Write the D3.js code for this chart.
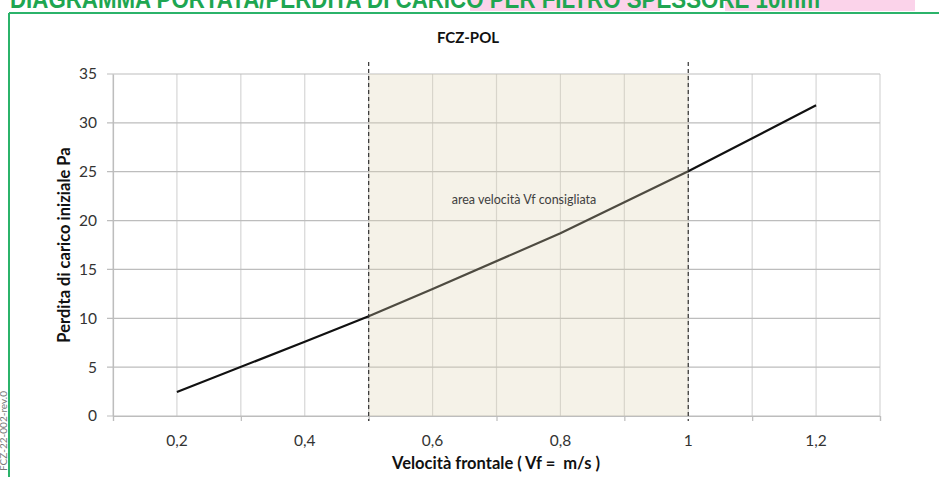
<!DOCTYPE html>
<html>
<head>
<meta charset="utf-8">
<script src="https://cdn.jsdelivr.net/npm/d3@7"></script>
<style>
body{margin:0;background:#fff;}
svg{display:block;font-family:Lato,"Open Sans",sans-serif;}
</style>
</head>
<body>
<div id="chart"></div>
<script>
// velocity (m/s) vs pressure drop (Pa)
var velocity = [0.2, 0.4, 0.5, 0.6, 0.8, 1.0, 1.2];
var pressure = [2.45, 7.6, 10.2, 13.0, 18.7, 25.05, 31.8];
var xLabels = [0.2, 0.4, 0.6, 0.8, 1.0, 1.2];
var yTicks = [0, 5, 10, 15, 20, 25, 30, 35];
var zone = [0.5, 1.0];

var W = 939, H = 477;
var svg = d3.select("#chart").append("svg").attr("width", W).attr("height", H);

var x = d3.scaleLinear().domain([0.1, 1.3]).range([113, 880]);
var y = d3.scaleLinear().domain([0, 35]).range([416, 74]);

// page header bits (cut off at the top like in the scanned page)
svg.append("rect").attr("x", 470).attr("y", 0).attr("width", 190).attr("height", 11).attr("fill", "#fbd3ea");
svg.append("rect").attr("x", 725).attr("y", 0).attr("width", 190).attr("height", 11).attr("fill", "#fbd3ea");
svg.append("text").attr("x", 10).attr("y", 8)
	.attr("textLength", 810).attr("lengthAdjust", "spacingAndGlyphs")
	.style("font-family", "'Liberation Sans Narrow','Liberation Sans',Arial,sans-serif")
	.style("font-weight", "bold").style("font-size", "26px").attr("fill", "#1ea651")
	.text("DIAGRAMMA PORTATA/PERDITA DI CARICO PER FILTRO SPESSORE 10mm");
svg.append("line").attr("x1", 9).attr("x2", W).attr("y1", 13).attr("y2", 13).attr("stroke", "#2bb36a").attr("stroke-width", 2);
svg.append("line").attr("x1", 9).attr("x2", 9).attr("y1", 13).attr("y2", H).attr("stroke", "#2bb36a").attr("stroke-width", 2);
svg.append("text").attr("transform", "translate(7,391) rotate(-90)")
	.style("font-size", "10px").attr("fill", "#777").attr("text-anchor", "end")
	.text("FCZ-22-002-rev.0");

// grid
var xGrid = d3.range(0.1, 1.31, 0.1);
svg.append("g").selectAll("line").data(xGrid).enter().append("line")
	.attr("x1", function(d){return x(d);}).attr("x2", function(d){return x(d);})
	.attr("y1", y(35)).attr("y2", y(0))
	.attr("stroke", "#d6d6d6").attr("stroke-width", 1.2);
svg.append("g").selectAll("line").data(yTicks).enter().append("line")
	.attr("x1", 107).attr("x2", x(1.3))
	.attr("y1", function(d){return y(d);}).attr("y2", function(d){return y(d);})
	.attr("stroke", "#bdbdbd").attr("stroke-width", 1.2);

// axes
var xAxis = d3.axisBottom(x).tickValues(d3.range(0.1, 1.31, 0.2)).tickSize(5).tickFormat("");
var gx = svg.append("g").attr("transform", "translate(0," + y(0) + ")").call(xAxis);
gx.select(".domain").attr("stroke", "#bdbdbd").attr("stroke-width", 1.2);
gx.selectAll(".tick line").attr("stroke", "#bdbdbd").attr("stroke-width", 1.2);

svg.append("g").selectAll("text").data(xLabels).enter().append("text")
	.attr("x", function(d){return x(d);}).attr("y", 446)
	.attr("text-anchor", "middle").style("font-size", "15.5px").attr("fill", "#333")
	.text(function(d){return d3.format(".1~f")(d).replace(".", ",");});

var yAxis = d3.axisLeft(y).tickValues(yTicks).tickSize(0).tickPadding(16);
var gy = svg.append("g").attr("transform", "translate(113,0)").call(yAxis);
gy.select(".domain").attr("stroke", "#bdbdbd").attr("stroke-width", 1.2);
gy.selectAll("text").style("font-size", "15.5px").style("font-family", "Lato,'Open Sans',sans-serif").attr("fill", "#333");

// curve
var line = d3.line().x(function(d){return x(d[0]);}).y(function(d){return y(d[1]);});
svg.append("path").datum(d3.zip(velocity, pressure)).attr("d", line)
	.attr("fill", "none").attr("stroke", "#111").attr("stroke-width", 2.2);

// recommended zone overlay
svg.append("rect").attr("x", x(zone[0])).attr("y", y(35))
	.attr("width", x(zone[1]) - x(zone[0])).attr("height", y(0) - y(35))
	.attr("fill", "rgb(222,213,180)").attr("fill-opacity", 0.3);
svg.append("g").selectAll("line").data(zone).enter().append("line")
	.attr("x1", function(d){return x(d);}).attr("x2", function(d){return x(d);})
	.attr("y1", 62).attr("y2", 421)
	.attr("stroke", "#333").attr("stroke-width", 1.2).attr("stroke-dasharray", "4,3");
svg.append("text").attr("x", 524).attr("y", 204).attr("text-anchor", "middle")
	.style("font-size", "12.5px").attr("fill", "#404040").text("area velocità Vf consigliata");

// titles
svg.append("text").attr("x", 468).attr("y", 43).attr("text-anchor", "middle")
	.style("font-size", "15px").style("font-weight", "bold").attr("fill", "#111").text("FCZ-POL");
svg.append("text").attr("x", 496).attr("y", 469).attr("text-anchor", "middle")
	.style("white-space", "pre")
	.style("font-size", "16.5px").style("font-weight", "bold").attr("fill", "#111").text("Velocità frontale ( Vf =  m/s )");
svg.append("text").attr("transform", "translate(70,245) rotate(-90)").attr("text-anchor", "middle")
	.style("font-size", "16.5px").style("font-weight", "bold").attr("fill", "#111").text("Perdita di carico iniziale Pa");
</script>
</body>
</html>
